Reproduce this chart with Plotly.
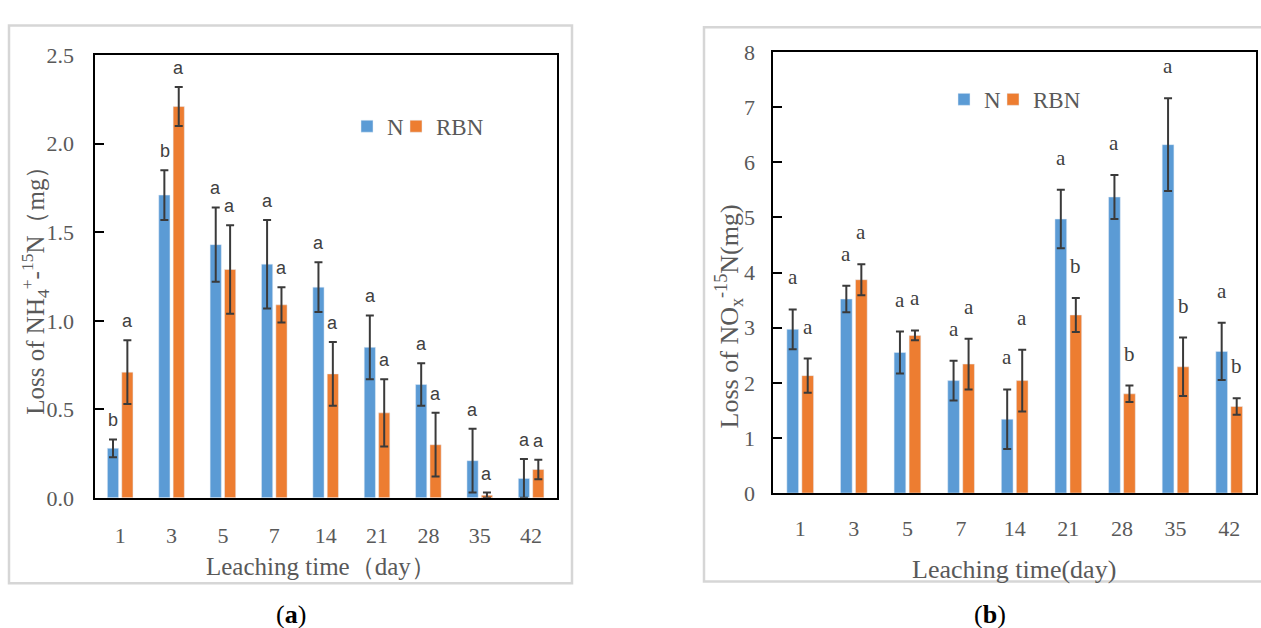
import plotly.graph_objects as go

# ---------------- data ----------------
days = ["1", "3", "5", "7", "14", "21", "28", "35", "42"]

# panel (a): loss of NH4+-15N (mg)
a_N = [0.28, 1.71, 1.43, 1.32, 1.19, 0.85, 0.64, 0.21, 0.11]
a_N_err = [0.05, 0.14, 0.21, 0.25, 0.14, 0.18, 0.12, 0.18, 0.11]
a_RBN = [0.71, 2.21, 1.29, 1.09, 0.70, 0.48, 0.30, 0.015, 0.16]
a_RBN_err = [0.18, 0.11, 0.25, 0.10, 0.18, 0.19, 0.18, 0.015, 0.055]
a_N_letters = ["b", "b", "a", "a", "a", "a", "a", "a", "a"]
a_RBN_letters = ["a", "a", "a", "a", "a", "a", "a", "a", "a"]

# panel (b): loss of NOx-15N (mg)
b_N = [2.97, 3.52, 2.55, 2.04, 1.34, 4.97, 5.37, 6.32, 2.57]
b_N_err = [0.36, 0.24, 0.38, 0.36, 0.54, 0.53, 0.40, 0.84, 0.52]
b_RBN = [2.13, 3.87, 2.86, 2.34, 2.04, 3.23, 1.80, 2.29, 1.57]
b_RBN_err = [0.31, 0.28, 0.09, 0.46, 0.56, 0.31, 0.15, 0.53, 0.15]
b_N_letters = ["a", "a", "a", "a", "a", "a", "a", "a", "a"]
b_RBN_letters = ["a", "a", "a", "a", "a", "b", "b", "b", "b"]

series_names = ["N", "RBN"]

# ---------------- style ----------------
W, H = 1261, 628
BLUE = "#5B9BD5"
ORANGE = "#ED7D31"
ERR = "#3A3A3A"
GRAY = "#595959"
SERIF = "Liberation Serif"
SANS = "Liberation Sans"

pos = list(range(len(days)))  # category slots on the x axis


def px_x(x):
    return x / W


def px_y(y):
    return 1 - y / H


fig = go.Figure()

err_style = dict(type="data", color=ERR, thickness=2, width=4, visible=True)

# panel a traces
fig.add_trace(go.Bar(x=pos, y=a_N, name=series_names[0], marker_color=BLUE,
                     error_y=dict(array=a_N_err, **err_style), legendwidth=4,
                     xaxis="x", yaxis="y", legend="legend"))
fig.add_trace(go.Bar(x=pos, y=a_RBN, name=series_names[1], marker_color=ORANGE,
                     error_y=dict(array=a_RBN_err, **err_style),
                     xaxis="x", yaxis="y", legend="legend"))
# panel b traces
fig.add_trace(go.Bar(x=pos, y=b_N, name=series_names[0], marker_color=BLUE,
                     error_y=dict(array=b_N_err, **err_style), legendwidth=4,
                     xaxis="x2", yaxis="y2", legend="legend2"))
fig.add_trace(go.Bar(x=pos, y=b_RBN, name=series_names[1], marker_color=ORANGE,
                     error_y=dict(array=b_RBN_err, **err_style),
                     xaxis="x2", yaxis="y2", legend="legend2"))

axis_common = dict(showline=True, linecolor="black", linewidth=2, mirror=True,
                   showgrid=False, zeroline=False)

xa_common = dict(type="linear", range=[-0.5, len(days) - 0.5], tickmode="array",
                 tickvals=pos, ticktext=days, ticks="",
                 tickfont=dict(family=SERIF, size=22, color=GRAY), **axis_common)
ya_common = dict(ticks="inside", ticklen=9, tickwidth=2, tickcolor="black",
                 tickfont=dict(family=SERIF, size=22, color=GRAY), **axis_common)

annotations = []


def letter_annots(xref, yref, vals, errs, letters, xshift, yshift, font):
    for p, v, e, t in zip(pos, vals, errs, letters):
        annotations.append(dict(x=p, y=v + e, xref=xref, yref=yref, text=t,
                                showarrow=False, xshift=xshift, yshift=yshift,
                                yanchor="bottom", font=font))


font_a_letters = dict(family=SANS, size=18, color="#404040")
font_b_letters = dict(family=SERIF, size=21, color="#404040")
letter_annots("x", "y", a_N, a_N_err, a_N_letters, -7, 7, font_a_letters)
letter_annots("x", "y", a_RBN, a_RBN_err, a_RBN_letters, 7, 7, font_a_letters)
letter_annots("x2", "y2", b_N, b_N_err, b_N_letters, -7.5, 18, font_b_letters)
letter_annots("x2", "y2", b_RBN, b_RBN_err, b_RBN_letters, 7.5, 18, font_b_letters)

title_font = dict(family=SERIF, size=25, color=GRAY)
annotations += [
    dict(text="Leaching time（day）", x=px_x(321), y=px_y(578), xref="paper", yref="paper",
         showarrow=False, xanchor="center", yanchor="middle", font=title_font),
    dict(text="Leaching time(day)", x=px_x(1014), y=px_y(581), xref="paper", yref="paper",
         showarrow=False, xanchor="center", yanchor="middle", font=dict(family=SERIF, size=26, color=GRAY)),
    dict(text="Loss of NH<sub>4</sub><sup>+</sup>-<sup>15</sup>N（mg）", x=px_x(35), y=px_y(284),
         xref="paper", yref="paper", showarrow=False, textangle=-90,
         xanchor="center", yanchor="middle", font=title_font),
    dict(text="Loss of NO<sub>x</sub><sup>-15</sup>N(mg)", x=px_x(729), y=px_y(317),
         xref="paper", yref="paper", showarrow=False, textangle=-90,
         xanchor="center", yanchor="middle", font=dict(family=SERIF, size=26, color=GRAY)),
    dict(text="(<b>a</b>)", x=px_x(291), y=px_y(627), xref="paper", yref="paper",
         showarrow=False, xanchor="center", yanchor="middle",
         font=dict(family=SERIF, size=26, color="black")),
    dict(text="(<b>b</b>)", x=px_x(990), y=px_y(627), xref="paper", yref="paper",
         showarrow=False, xanchor="center", yanchor="middle",
         font=dict(family=SERIF, size=26, color="black")),
]

shapes = [
    dict(type="rect", xref="paper", yref="paper", x0=px_x(9), x1=px_x(572),
         y0=px_y(595), y1=px_y(14), line=dict(color="#D6D6D6", width=2.5), layer="below"),
    dict(type="rect", xref="paper", yref="paper", x0=px_x(704), x1=px_x(1275),
         y0=px_y(593), y1=px_y(16), line=dict(color="#D6D6D6", width=2.5), layer="below"),
]

legend_common = dict(orientation="h", bgcolor="rgba(0,0,0,0)", borderwidth=0,
                     font=dict(family=SERIF, size=23, color=GRAY),
                     xanchor="left", yanchor="middle", itemwidth=30,
                     traceorder="normal")

fig.update_layout(
    width=W, height=H,
    margin=dict(l=0, r=0, t=0, b=0),
    paper_bgcolor="white", plot_bgcolor="white",
    barmode="group", bargap=0.44, bargroupgap=0.22,
    xaxis=dict(domain=[px_x(94.5), px_x(556.8)], anchor="y", ticklabelstandoff=17, **xa_common),
    yaxis=dict(domain=[px_y(506), px_y(45)], anchor="x", range=[0, 2.5], dtick=0.5,
               tickformat=".1f", ticklabelstandoff=14, **ya_common),
    xaxis2=dict(domain=[px_x(773.4), px_x(1256)], anchor="y2", ticklabelstandoff=15, **xa_common),
    yaxis2=dict(domain=[px_y(501), px_y(41.7)], anchor="x2", range=[0, 8], dtick=1,
                ticklabelstandoff=12, **ya_common),
    legend=dict(x=px_x(347), y=px_y(119), **legend_common),
    legend2=dict(x=px_x(944), y=px_y(91), **legend_common),
    annotations=annotations,
    shapes=shapes,
    showlegend=True,
)

fig.write_html("out.html")
